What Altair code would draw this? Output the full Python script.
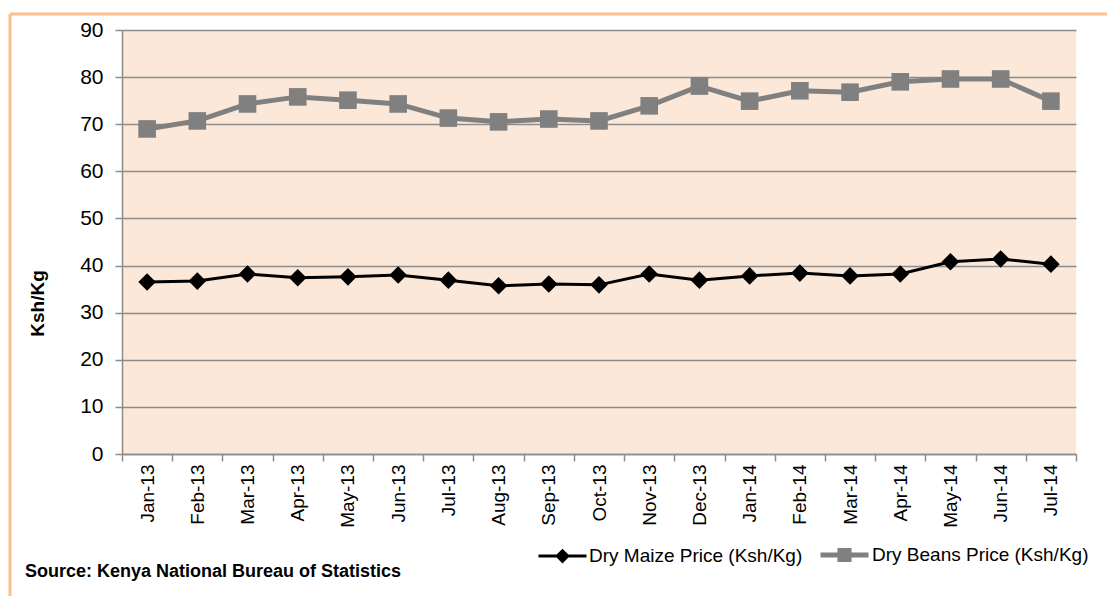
import altair as alt
import pandas as pd

months = ["Jan-13", "Feb-13", "Mar-13", "Apr-13", "May-13", "Jun-13", "Jul-13",
          "Aug-13", "Sep-13", "Oct-13", "Nov-13", "Dec-13", "Jan-14", "Feb-14",
          "Mar-14", "Apr-14", "May-14", "Jun-14", "Jul-14"]
maize = [36.5, 36.7, 38.2, 37.4, 37.6, 38.0, 36.9, 35.7, 36.1, 35.9, 38.2, 36.9,
         37.8, 38.4, 37.8, 38.2, 40.8, 41.4, 40.3]
beans = [69.0, 70.7, 74.3, 75.8, 75.1, 74.3, 71.3, 70.5, 71.1, 70.7, 73.9, 78.1,
         74.9, 77.1, 76.8, 79.0, 79.6, 79.6, 74.9]
series_names = ["Dry Maize Price (Ksh/Kg)", "Dry Beans Price (Ksh/Kg)"]
series_colors = ["#000000", "#808080"]
series_shapes = ["diamond", "square"]
y_ticks = [0, 10, 20, 30, 40, 50, 60, 70, 80, 90]
source_note = ["Source: Kenya National Bureau of Statistics"]

df = pd.DataFrame({
    "month": months * 2,
    "price": maize + beans,
    "series": [series_names[0]] * len(months) + [series_names[1]] * len(months),
})

FONT = "Liberation Sans"
GRID = "#8c8c8c"
BORDER = "#FAC090"

x_enc = alt.X(
    "month:N", sort=months,
    scale=alt.Scale(type="band", paddingInner=0, paddingOuter=0),
    axis=alt.Axis(
        title=None, grid=False, tickBand="extent", labelAngle=270,
        labelAlign="right", labelBaseline="middle", labelPadding=3,
        tickSize=7, tickColor=GRID, tickWidth=1.5, domainColor=GRID, domainWidth=1.5,
        labelFont=FONT, labelFontSize=19, labelColor="#000000",
    ),
)
y_enc = alt.Y(
    "price:Q",
    scale=alt.Scale(domain=[0, 90], nice=False, zero=True),
    axis=alt.Axis(
        values=y_ticks, title="Ksh/Kg", titleFont=FONT, titleFontSize=19,
        titleFontWeight="bold", titleColor="#000000", titleAngle=270,
        titleX=-85, titleY=273, titleAlign="center", titleBaseline="middle",
        grid=True, gridColor=GRID, gridWidth=1.5, domainColor=GRID, domainWidth=1.5,
        tickSize=7, tickColor=GRID, tickWidth=1.5, labelPadding=12,
        labelFont=FONT, labelFontSize=21, labelColor="#000000",
    ),
)
color_scale = alt.Scale(domain=series_names, range=series_colors)

PATH_EXPR = ("datum.index === 0 ? 'M-1,0H1M-0.22,0L0,-0.22L0.22,0L0,0.22Z' "
             ": 'M-1,0H1M-0.19,-0.19H0.19V0.19H-0.19Z'")
COLOR_EXPR = "datum.index === 0 ? '#000000' : '#808080'"
WIDTH_EXPR = "datum.index === 0 ? 3 : 5"

legend = alt.Legend(
    title=None, orient="none", legendX=415, legendY=498, direction="horizontal",
    padding=0, labelFont=FONT, labelFontSize=19, labelColor="#000000",
    labelOffset=1, columnPadding=7, labelLimit=0, symbolSize=2304,
    symbolOpacity=1,
    symbolType=alt.ExprRef(PATH_EXPR),
    symbolStrokeWidth=alt.ExprRef(WIDTH_EXPR),
    symbolStrokeColor=alt.ExprRef(COLOR_EXPR),
    symbolFillColor=alt.ExprRef(COLOR_EXPR),
)

base = alt.Chart(df)

lines = base.mark_line().encode(
    x=x_enc, y=y_enc,
    color=alt.Color("series:N", scale=color_scale, legend=legend),
    strokeWidth=alt.StrokeWidth("series:N", scale=alt.Scale(domain=series_names, range=[3, 5]), legend=None),
)

point_layers = [
    base.transform_filter(alt.datum.series == name).mark_point(
        filled=True, opacity=1, size=310, shape=shp, color=col,
    ).encode(x=x_enc, y=y_enc)
    for name, shp, col in zip(series_names, series_shapes, series_colors)
]

note = alt.Chart(pd.DataFrame({"t": source_note})).mark_text(
    align="left", baseline="middle", font=FONT, fontSize=18, fontWeight="bold", color="#000000",
).encode(text="t:N", x=alt.value(-97), y=alt.value(542))

border_df = pd.DataFrame({"k": [0]})
top_border = alt.Chart(border_df).mark_rule(color=BORDER, strokeWidth=3).encode(
    x=alt.value(-112), x2=alt.value(985), y=alt.value(-16))
left_border = alt.Chart(border_df).mark_rule(color=BORDER, strokeWidth=3).encode(
    x=alt.value(-112), y=alt.value(-16), y2=alt.value(566))

chart = alt.layer(lines, *point_layers, note, top_border, left_border).properties(
    width=954, height=424,
    autosize=alt.AutoSizeParams(type="none"),
    padding={"left": 122, "top": 30, "right": 31, "bottom": 142},
    background="#ffffff",
).configure_view(fill="#FCE8D9", stroke=None)

chart.save("out.html", embed_options={"renderer": "svg", "actions": False})
